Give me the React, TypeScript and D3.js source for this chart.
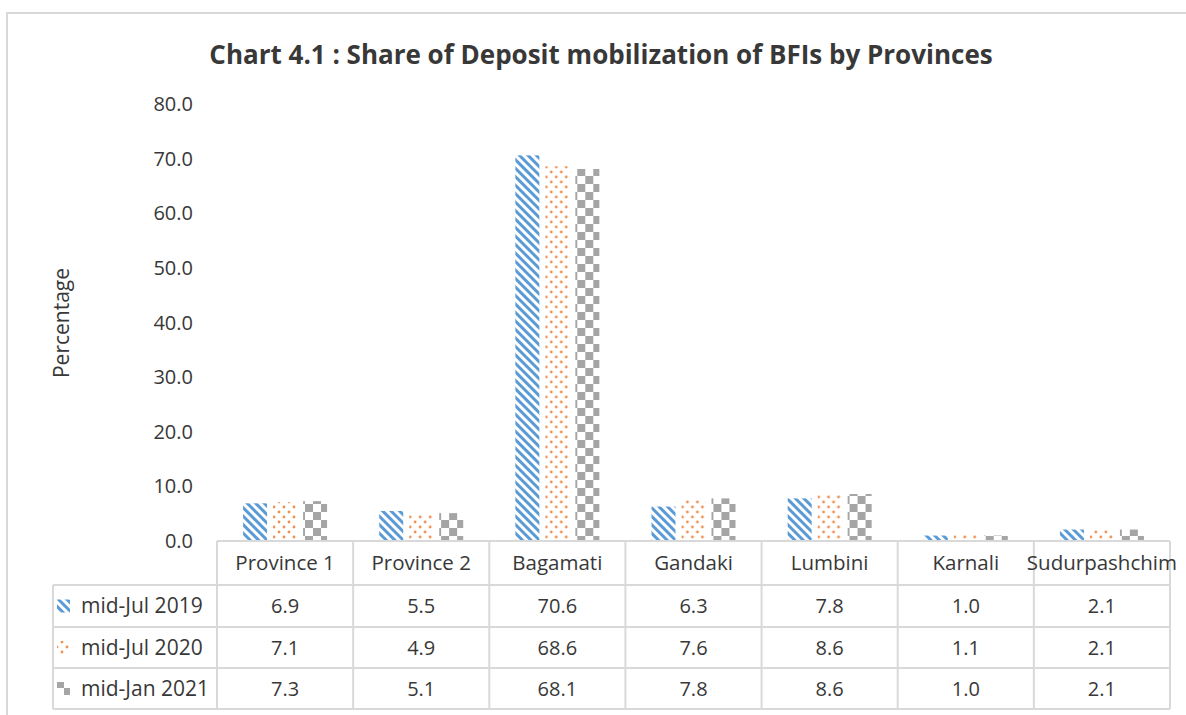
import React from 'react'
import * as d3 from 'd3'

const categories = ['Province 1', 'Province 2', 'Bagamati', 'Gandaki', 'Lumbini', 'Karnali', 'Sudurpashchim']
const seriesNames = ['mid-Jul 2019', 'mid-Jul 2020', 'mid-Jan 2021']
const jul2019 = [6.9, 5.5, 70.6, 6.3, 7.8, 1.0, 2.1]
const jul2020 = [7.1, 4.9, 68.6, 7.6, 8.6, 1.1, 2.1]
const jan2021 = [7.3, 5.1, 68.1, 7.8, 8.6, 1.0, 2.1]
const yTicks = [0, 10, 20, 30, 40, 50, 60, 70, 80]

const seriesValues = [jul2019, jul2020, jan2021]
const patternIds = ['pat-diag', 'pat-dots', 'pat-check']

const W = 1186
const H = 715
const font = '"Open Sans", sans-serif'
const textColor = '#383838'
const lineColor = '#d9d9d9'

const App = () => {
    const plotLeft = 217
    const plotRight = 1170
    const tableLeft = 53
    const rowEdges = [541, 585, 627, 668, 709]

    const x = d3.scaleBand<string>()
        .domain(categories)
        .range([plotLeft, plotRight])
    const groupPad = (x.bandwidth() - 84) / 2
    const x1 = d3.scaleBand<string>()
        .domain(seriesNames)
        .range([groupPad, x.bandwidth() - groupPad])
        .paddingInner(0.2)
    const y = d3.scaleLinear()
        .domain([0, 80])
        .range([541, 104])
    const fmt = d3.format('.1f')

    const colEdges = categories.map(c => x(c) as number).concat(plotRight)

    return (
        <svg width={W} height={H} style={{ position: 'absolute', left: 0, top: 0, background: '#fff' }}
            fontFamily={font}>
            <defs>
                <pattern id="pat-diag" width="6" height="6" patternUnits="userSpaceOnUse"
                    patternTransform="rotate(-45)">
                    <rect width="6" height="6" fill="#fff" />
                    <rect width="3" height="6" fill="#5b9bd5" />
                </pattern>
                <pattern id="pat-dots" width="10" height="10" patternUnits="userSpaceOnUse">
                    <rect width="10" height="10" fill="#fff" />
                    <circle cx="2" cy="2" r="1.4" fill="#ed7d31" fillOpacity={0.85} />
                    <circle cx="7" cy="7" r="1.4" fill="#ed7d31" fillOpacity={0.85} />
                </pattern>
                <pattern id="pat-check" width="16" height="16" patternUnits="userSpaceOnUse">
                    <rect width="16" height="16" fill="#fff" />
                    <rect width="8" height="8" fill="#a5a5a5" />
                    <rect x="8" y="8" width="8" height="8" fill="#a5a5a5" />
                </pattern>
            </defs>

            {/* outer frame */}
            <line x1={6} x2={W} y1={13} y2={13} stroke={lineColor} strokeWidth={2} />
            <line x1={7} x2={7} y1={13} y2={H} stroke={lineColor} strokeWidth={2} />

            <text x={601} y={64} textAnchor="middle" fontSize={26} fontWeight="bold" fill={textColor}>
                Chart 4.1 : Share of Deposit mobilization of BFIs by Provinces
            </text>

            <text transform="translate(69,323) rotate(-90)" textAnchor="middle" fontSize={21} fill={textColor}>
                Percentage
            </text>

            {yTicks.map(t => (
                <text key={t} x={193} y={y(t)} dy="0.35em" textAnchor="end" fontSize={20} fill={textColor}>
                    {fmt(t)}
                </text>
            ))}

            {/* bars */}
            {categories.map((c, i) => (
                <g key={c} transform={`translate(${x(c)},0)`}>
                    {seriesNames.map((s, j) => (
                        <rect key={s}
                            x={x1(s)}
                            y={y(seriesValues[j][i])}
                            width={x1.bandwidth()}
                            height={y(0) - y(seriesValues[j][i])}
                            fill={`url(#${patternIds[j]})`} />
                    ))}
                </g>
            ))}

            {/* data table */}
            <g stroke={lineColor} strokeWidth={2}>
                <line x1={plotLeft} x2={plotRight} y1={rowEdges[0]} y2={rowEdges[0]} />
                {rowEdges.slice(1).map(r => (
                    <line key={r} x1={tableLeft} x2={plotRight} y1={r} y2={r} />
                ))}
                {colEdges.map(cx => (
                    <line key={cx} x1={cx} x2={cx} y1={rowEdges[0]} y2={rowEdges[4]} />
                ))}
                <line x1={tableLeft} x2={tableLeft} y1={rowEdges[1]} y2={rowEdges[4]} />
            </g>

            {categories.map(c => (
                <text key={c} x={(x(c) as number) + x.bandwidth() / 2} y={(rowEdges[0] + rowEdges[1]) / 2}
                    dy="0.35em" textAnchor="middle" fontSize={20.5} fill={textColor}>
                    {c}
                </text>
            ))}

            {seriesNames.map((s, j) => {
                const cy = (rowEdges[j + 1] + rowEdges[j + 2]) / 2
                return (
                    <g key={s}>
                        <rect x={57} y={cy - 6.5} width={13} height={13} fill={`url(#${patternIds[j]})`} />
                        <text x={81} y={cy} dy="0.35em" fontSize={21} fill={textColor}>{s}</text>
                        {categories.map((c, i) => (
                            <text key={c} x={(x(c) as number) + x.bandwidth() / 2} y={cy} dy="0.35em"
                                textAnchor="middle" fontSize={20} fill={textColor}>
                                {fmt(seriesValues[j][i])}
                            </text>
                        ))}
                    </g>
                )
            })}
        </svg>
    )
}

export default App
